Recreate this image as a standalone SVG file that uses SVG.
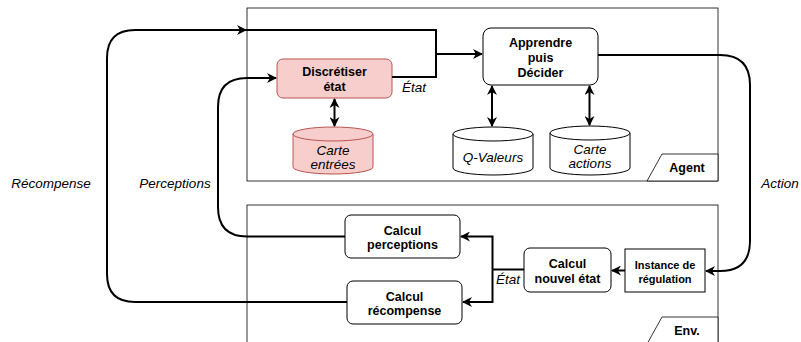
<svg xmlns="http://www.w3.org/2000/svg" width="801" height="342" viewBox="0 0 801 342">
<defs>
<marker id="ah" viewBox="0 0 10 10" refX="9" refY="5" markerWidth="10" markerHeight="10" markerUnits="userSpaceOnUse" orient="auto-start-reverse">
<path d="M0,0 L10,5 L0,10 L3,5 Z" fill="#000"/>
</marker>
</defs>
<style>
.box{fill:#fff;stroke:#000;stroke-width:1}
.red{fill:#f8cecc;stroke:#b85450;stroke-width:1}
.cont{fill:#fff;stroke:#000;stroke-width:0.8}
.b{font-family:"Liberation Sans",Arial,sans-serif;font-weight:bold;font-size:12.5px;text-anchor:middle;fill:#000}
.s{font-size:11px}
.i{font-family:"Liberation Sans",Arial,sans-serif;font-style:italic;font-size:13.5px;text-anchor:middle;fill:#000}
.c{fill:none;stroke:#000;stroke-width:2}
.c1{fill:none;stroke:#000;stroke-width:1.5}
</style>
<g id="agent">
<rect class="cont" x="247" y="8" width="471" height="173"/>
<path class="cont" d="M647,181 L662,154 L718,154 L718,181 Z"/>
<text class="b" x="687" y="172">Agent</text>
</g>
<g id="env">
<rect class="cont" x="247" y="205" width="471" height="145"/>
<path class="cont" d="M647,344 L662,317 L718,317 L718,344 Z"/>
<text class="b" x="687" y="335">Env.</text>
</g>
<g id="discretiser">
<rect class="red" x="277" y="59" width="115" height="39" rx="6"/>
<text class="b" x="334.5" y="76">Discrétiser</text>
<text class="b" x="334.5" y="91">état</text>
</g>
<g id="carte-entrees">
<path class="red" d="M293,134 A40,7 0 0 1 373,134 L373,167 A40,7 0 0 1 293,167 Z"/>
<path class="red" d="M293,134 A40,7 0 0 0 373,134" fill="none"/>
<text class="i" x="333" y="155">Carte</text>
<text class="i" x="333" y="169">entrées</text>
</g>
<g id="apprendre">
<rect class="box" x="483" y="28" width="115" height="57" rx="8"/>
<text class="b" x="540.5" y="47">Apprendre</text>
<text class="b" x="540.5" y="62">puis</text>
<text class="b" x="540.5" y="77">Décider</text>
</g>
<g id="qvaleurs">
<path class="box" d="M453,134 A40,7 0 0 1 533,134 L533,168 A40,7 0 0 1 453,168 Z"/>
<path class="box" d="M453,134 A40,7 0 0 0 533,134" fill="none"/>
<text class="i" x="493" y="162">Q-Valeurs</text>
</g>
<g id="carte-actions">
<path class="box" d="M550,133 A40,7 0 0 1 630,133 L630,168 A40,7 0 0 1 550,168 Z"/>
<path class="box" d="M550,133 A40,7 0 0 0 630,133" fill="none"/>
<text class="i" x="590" y="154">Carte</text>
<text class="i" x="590" y="168">actions</text>
</g>
<g id="calcul-perceptions">
<rect class="box" x="345" y="215" width="115" height="43" rx="6"/>
<text class="b" x="402.5" y="235">Calcul</text>
<text class="b" x="402.5" y="249">perceptions</text>
</g>
<g id="calcul-recompense">
<rect class="box" x="347" y="281" width="115" height="43" rx="6"/>
<text class="b" x="404.5" y="301">Calcul</text>
<text class="b" x="404.5" y="315">récompense</text>
</g>
<g id="calcul-nouvel-etat">
<rect class="box" x="524" y="248" width="87" height="44" rx="6"/>
<text class="b" x="567.5" y="268">Calcul</text>
<text class="b" x="567.5" y="283">nouvel état</text>
</g>
<g id="instance">
<rect class="box" x="625" y="249" width="80" height="43"/>
<text class="b s" x="665" y="269">Instance de</text>
<text class="b s" x="665" y="283">régulation</text>
</g>
<g id="connectors">
<path class="c" d="M347,302 L135,302 Q107,302 107,274 L107,58 Q107,30 135,30 L246,30" marker-end="url(#ah)"/>
<path class="c" d="M246,30 L436,30 L436,54 L482,54" marker-end="url(#ah)"/>
<path class="c" d="M392,77 L436,77 L436,54"/>
<path class="c" d="M345,236.5 L247,236.5 Q218,236.5 218,207 L218,107 Q218,78 247,78 L276,78" marker-end="url(#ah)"/>
<path class="c" d="M598,55 L720,55 Q750,55 750,85 L750,241 Q750,271 720,271 L706,271" marker-end="url(#ah)"/>
<path class="c" d="M625,270.5 L612,270.5" marker-end="url(#ah)"/>
<path class="c" d="M524,269.5 L492.5,269.5"/>
<path class="c" d="M492.5,269.5 L492.5,236.5 L461,236.5" marker-end="url(#ah)"/>
<path class="c" d="M492.5,269.5 L492.5,302 L463,302" marker-end="url(#ah)"/>
<path class="c" d="M334.5,99 L334.5,126" marker-start="url(#ah)" marker-end="url(#ah)"/>
<path class="c" d="M492,86 L492,126" marker-start="url(#ah)" marker-end="url(#ah)"/>
<path class="c" d="M589.5,86 L589.5,125" marker-start="url(#ah)" marker-end="url(#ah)"/>
</g>
<g id="labels">
<text class="i" x="51" y="188">Récompense</text>
<text class="i" x="175" y="188">Perceptions</text>
<text class="i" x="780" y="188">Action</text>
<text class="i" x="414" y="92">État</text>
<text class="i" x="508" y="284">État</text>
</g>
</svg>
